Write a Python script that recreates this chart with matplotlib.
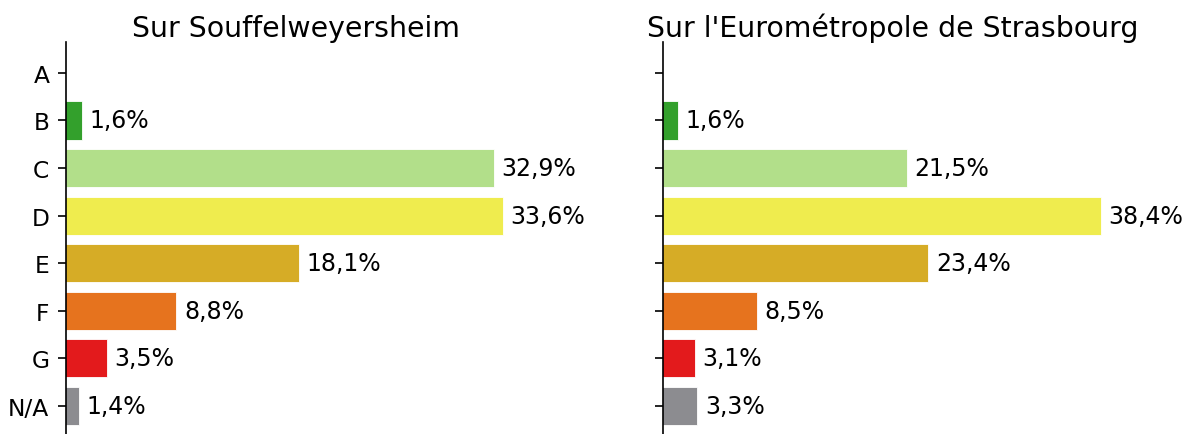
import matplotlib
matplotlib.use("Agg")
import matplotlib.pyplot as plt

categories = ["A", "B", "C", "D", "E", "F", "G", "N/A"]
souffel = [0.0, 1.6, 32.9, 33.6, 18.1, 8.8, 3.5, 1.4]
eurometro = [0.0, 1.6, 21.5, 38.4, 23.4, 8.5, 3.1, 3.3]
colors = ["#2f9e2a", "#33a02c", "#b2df8a", "#efec4e", "#d6ac26", "#e6731e", "#e31a1c", "#8c8c90"]
titles = ["Sur Souffelweyersheim", "Sur l'Eurométropole de Strasbourg"]

W, H = 1192, 435
fig = plt.figure(figsize=(W / 100, H / 100), dpi=100)
boxes = [(66, 525, 0.42), (663, 1123, 0.32)]
top, bottom = 43, 435

for (x0, x1, xl), vals, title in zip(boxes, [souffel, eurometro], titles):
    ax = fig.add_axes([x0 / W, 1 - bottom / H, (x1 - x0) / W, (bottom - top) / H])
    ypos = list(range(len(categories)))
    ax.barh(ypos, vals, height=0.8, color=colors, edgecolor="white", linewidth=0.6)
    for y, v in zip(ypos, vals):
        if v > 0:
            ax.annotate(f"{v:.1f}".replace(".", ",") + "%", (v, y), xytext=(5.5, 0),
                        textcoords="offset points", va="center", ha="left", fontsize=17)
    ax.set_ylim(7.59, -0.65)
    ax.set_xlim(xl, max(vals) * 1.05)
    ax.set_yticks(ypos)
    if title == titles[0]:
        ax.set_yticklabels(categories, fontsize=16.8)
    else:
        ax.set_yticklabels([])
    ax.set_xticks([])
    for s in ["top", "right", "bottom"]:
        ax.spines[s].set_visible(False)
    ax.spines["left"].set_linewidth(1.2)
    ax.tick_params(axis="y", length=6, width=1.2, pad=6)
    ax.set_title(title, fontsize=20.4, pad=4.5)

fig.savefig("out.png", dpi=100)
